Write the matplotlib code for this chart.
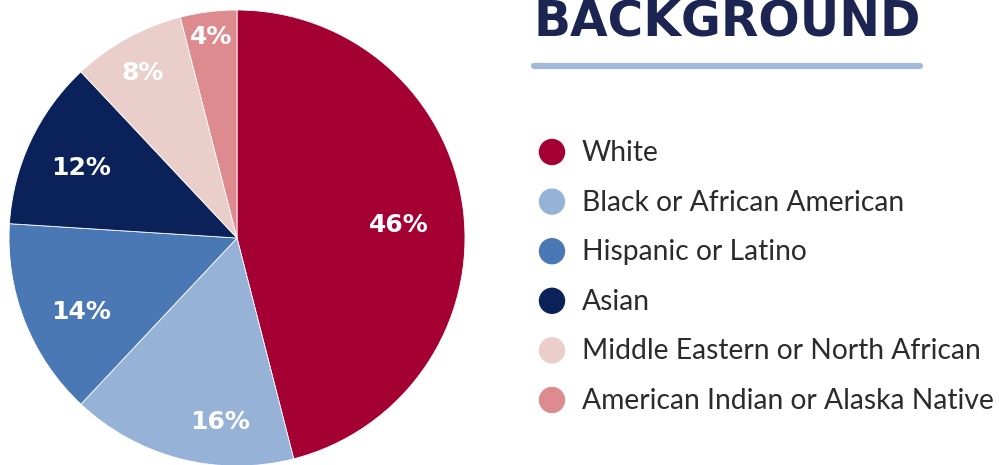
import numpy as np
import matplotlib
matplotlib.use("Agg")
import matplotlib.pyplot as plt
from matplotlib.patches import Circle

# share of participants by background
groups = ["White", "Black or African American", "Hispanic or Latino", "Asian",
          "Middle Eastern or North African", "American Indian or Alaska Native"]
shares = [46, 16, 14, 12, 8, 4]
colors = ["#a50034", "#96b2d6", "#4a78b5", "#0a2259", "#e9cec9", "#de8b90"]
# percent label placement: fraction of the radius, and a small angle nudge (deg)
label_dist = [0.71, 0.81, 0.755, 0.75, 0.835, 0.89]
label_nudge = [-2.6, 9.0, 3.8, 1.0, 1.0, 0.0]

W, H = 999, 465
fig = plt.figure(figsize=(W / 100, H / 100), dpi=100)
ax = fig.add_axes([0, 0, 1, 1])

# pie, laid out in pixel units
cx, cy, r = 237, H - 238, 228
wedges, _ = ax.pie(shares, colors=colors, startangle=90, counterclock=False,
                   center=(cx, cy), radius=r, frame=True,
                   wedgeprops=dict(edgecolor="white", linewidth=0.6))
ax.set_xlim(0, W)
ax.set_ylim(0, H)
ax.set_aspect("equal")
ax.axis("off")

for w, v, d, nd in zip(wedges, shares, label_dist, label_nudge):
    mid = np.deg2rad((w.theta1 + w.theta2) / 2 + nd)
    ax.text(cx + d * r * np.cos(mid), cy + d * r * np.sin(mid), f"{v}%",
            ha="center", va="center", color="white", fontsize=18,
            fontweight="bold", family="DejaVu Sans")

# heading and rule
ax.text(533, H - 37, "BACKGROUND", ha="left", va="baseline", color="#1c2452",
        fontsize=35, fontweight="bold", family="DejaVu Sans")
ax.plot([534, 920], [H - 66, H - 66], color="#a3b9da", lw=4.5,
        solid_capstyle="round")

# legend
for i, (g, c) in enumerate(zip(groups, colors)):
    y = H - (152 + i * 49.6)
    ax.add_patch(Circle((552, y), 12.5, color=c))
    ax.text(582, y - 1, g, ha="left", va="center", color="#2b2b2b",
            fontsize=20.3, family="Lato")

fig.savefig("out.png", dpi=100)
